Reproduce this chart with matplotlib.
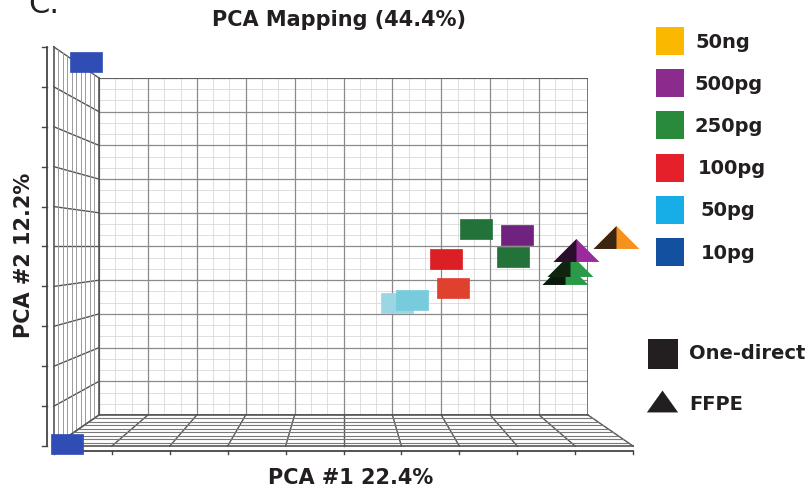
import numpy as np
import matplotlib.pyplot as plt
from matplotlib.path import Path

plt.rcParams['font.family'] = ['DejaVu Sans']

# amount groups (legend order) and legend colours
groups = ['50ng', '500pg', '250pg', '100pg', '50pg', '10pg']
group_colors = ['#fbb800', '#8c2b8e', '#2a8a3c', '#e5202a', '#17aee8', '#1450a0']

# One-direct samples (squares), PC1 / PC2 in grid units of the back wall
sq_group = ['10pg', '10pg', '50pg', '50pg', '100pg', '100pg', '250pg', '250pg', '500pg']
sq_x = [-0.27, -0.65, 6.09, 6.40, 7.10, 7.24, 7.71, 8.47, 8.55]
sq_y = [10.47, -0.86, 3.32, 3.41, 4.63, 3.77, 5.52, 4.69, 5.34]
sq_color = ['#2f4db5', '#2f4db5', '#9bd6e3', '#78cbdc', '#dc1f24', '#e0402e',
            '#22723a', '#22723a', '#70227f']

# FFPE samples (pyramids)
tri_group = ['250pg', '250pg', '500pg', '50ng']
tri_x = [9.53, 9.63, 9.75, 10.57]
tri_y = [4.21, 4.45, 4.91, 5.27]
tri_color = ['#2a9a48', '#2a9a48', '#9a2a9e', '#f5921e']
tri_shade = ['#0c1a0e', '#10240f', '#2a0f2c', '#3b2412']

title = 'PCA Mapping (44.4%)'
xlabel = 'PCA #1 22.4%'
ylabel = 'PCA #2 12.2%'
ink = '#231f20'

W, H = 809, 490
fig = plt.figure(figsize=(W / 100, H / 100), dpi=100)

# back wall of the box
ax = fig.add_axes([99 / W, 1 - 415 / H, 489 / W, 337 / H])
ax.set_xlim(0, 10)
ax.set_ylim(0, 10)
ax.axis('off')

s = 1.185  # front / back scale of the box
lo, hi = 5 - 5 * s, 5 + 5 * s

# back wall grid
for v in np.arange(0, 10.01, 1 / 3):
    major = abs(v - round(v)) < 1e-6
    c, lw = ('#8a8a8a', 0.9) if major else ('#d9d9d9', 0.6)
    ax.plot([v, v], [0, 10], color=c, lw=lw, zorder=2 if major else 1)
    ax.plot([0, 10], [v, v], color=c, lw=lw, zorder=2 if major else 1)
for v in (0, 10):
    ax.plot([v, v], [0, 10], color='#555555', lw=1.1, zorder=3)
    ax.plot([0, 10], [v, v], color='#555555', lw=1.1, zorder=3)

# left wall
for j in range(11):
    ax.plot([0, lo], [j, 5 + (j - 5) * s], color='#555555', lw=1.0, clip_on=False, zorder=2)
for t in np.linspace(0, 1, 11):
    k = 1 + (s - 1) * t
    inner = 0 < t < 1
    ax.plot([5 - 5 * k] * 2, [5 - 5 * k, 5 + 5 * k], color='#9a9a9a' if inner else '#555555',
            lw=0.7 if inner else 1.2, clip_on=False, zorder=2)

# floor
for j in range(11):
    ax.plot([j, 5 + (j - 5) * s], [0, lo], color='#555555', lw=1.0, clip_on=False, zorder=2)
for t in np.linspace(0, 1, 10):
    k = 1 + (s - 1) * t
    inner = 0 < t < 1
    ax.plot([5 - 5 * k, 5 + 5 * k], [5 - 5 * k] * 2, color='#7a7a7a' if inner else '#555555',
            lw=0.8 if inner else 1.2, clip_on=False, zorder=2)

# outer axis lines with ticks
ax_off = -1.07
ax.plot([ax_off, ax_off], [lo, hi], color='#444444', lw=1.3, clip_on=False)
ax.plot([lo, hi], [ax_off, ax_off], color='#444444', lw=1.3, clip_on=False)
for j in range(11):
    p = 5 + (j - 5) * s
    ax.plot([ax_off - 0.09, ax_off], [p, p], color='#444444', lw=1.0, clip_on=False)
    ax.plot([p, p], [ax_off, ax_off - 0.1], color='#444444', lw=1.0, clip_on=False)

# marker shapes
rect = Path([(-1, -0.65), (1, -0.65), (1, 0.65), (-1, 0.65), (-1, -0.65)],
            [Path.MOVETO, Path.LINETO, Path.LINETO, Path.LINETO, Path.CLOSEPOLY])
pyr = Path([(-1, -0.5), (0, 0.5), (1, -0.5), (-1, -0.5)],
           [Path.MOVETO, Path.LINETO, Path.LINETO, Path.CLOSEPOLY])
pyr_left = Path([(-1, -0.5), (0, 0.5), (0, -0.5), (-1, -0.5)],
                [Path.MOVETO, Path.LINETO, Path.LINETO, Path.CLOSEPOLY])

for x, y, c in zip(sq_x, sq_y, sq_color):
    ax.plot(x, y, marker=rect, markersize=22.5, color=c, markeredgecolor=c,
            markeredgewidth=0.5, clip_on=False, zorder=10)

for x, y, c, d in zip(tri_x, tri_y, tri_color, tri_shade):
    ax.plot(x, y, marker=pyr, markersize=33, color=c, markeredgewidth=0, clip_on=False, zorder=11)
    ax.plot(x, y, marker=pyr_left, markersize=33, color=d, markeredgewidth=0, clip_on=False, zorder=11)

# legend (pixel layout overlay)
lax = fig.add_axes([0, 0, 1, 1], zorder=-1)
lax.set_xlim(0, W)
lax.set_ylim(H, 0)
lax.axis('off')
label_x = [695, 694, 695, 698, 700, 701]
for i, (g, c) in enumerate(zip(groups, group_colors)):
    yy = 41 + i * 42.2
    lax.plot(670, yy, marker='s', markersize=19.5, color=c, markeredgewidth=0)
    lax.text(label_x[i], yy + 1, g, fontsize=14, fontweight='bold', color=ink,
             va='center', ha='left')

lax.plot(663, 354, marker='s', markersize=21.5, color=ink, markeredgewidth=0)
lax.text(689, 353, 'One-direct', fontsize=14, fontweight='bold', color=ink, va='center')
tri_leg = Path([(-1, -0.7), (0, 0.7), (1, -0.7), (-1, -0.7)],
               [Path.MOVETO, Path.LINETO, Path.LINETO, Path.CLOSEPOLY])
lax.plot(662, 401, marker=tri_leg, markersize=22.5, color=ink, markeredgewidth=0)
lax.text(689, 404, 'FFPE', fontsize=14, fontweight='bold', color=ink, va='center')

fig.text(339 / W, 1 - 20 / H, title, fontsize=15, fontweight='bold', color=ink,
         ha='center', va='center')
fig.text(351 / W, 1 - 478 / H, xlabel, fontsize=15, fontweight='bold', color=ink,
         ha='center', va='center')
fig.text(24 / W, 1 - 255 / H, ylabel, fontsize=15, fontweight='bold', color=ink,
         ha='center', va='center', rotation=90)
fig.text(28 / W, 1 - 13 / H, 'C.', fontsize=22, color=ink, ha='left', va='baseline')

fig.savefig('out.png', dpi=100, facecolor='white')
